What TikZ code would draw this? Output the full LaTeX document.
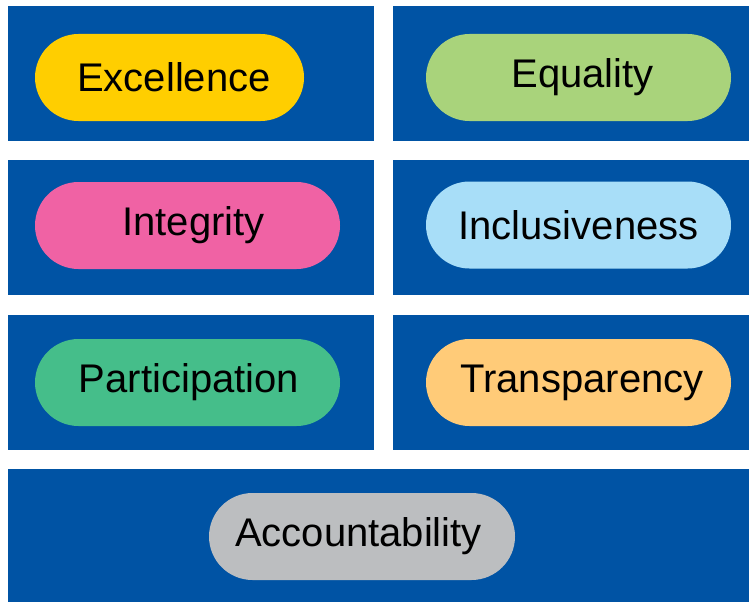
\documentclass[tikz,border=0pt]{standalone}
\usepackage{fontspec}
\setmainfont{Liberation Sans}
\usepackage{tikz}
\usetikzlibrary{shapes.misc}
\definecolor{panelblue}{RGB}{0,83,164}
\definecolor{pillyellow}{RGB}{255,206,0}
\definecolor{pillgreen}{RGB}{169,211,123}
\definecolor{pillpink}{RGB}{240,98,164}
\definecolor{pillsky}{RGB}{168,222,248}
\definecolor{pillteal}{RGB}{69,190,138}
\definecolor{pillorange}{RGB}{255,203,120}
\definecolor{pillgrey}{RGB}{188,190,192}
\tikzset{
 panel/.style={fill=panelblue},
 pill/.style={rounded rectangle, minimum height=87pt, inner sep=0pt,
   font=\fontsize{40}{41}\selectfont, text=black},
}

\begin{document}
\begin{tikzpicture} [x=1pt,y=-1pt]
\useasboundingbox (0,0) rectangle (749,602);
\foreach \y in {6,160,315} {
 \fill[panel] (8,\y) rectangle ++(366,135);
 \fill[panel] (393,\y) rectangle ++(356,135);
}
\fill[panel] (8,469) rectangle (749,602);
\node[pill, fill=pillyellow, minimum width=269pt] (exc) at (169.5,77.5) {\hspace*{9pt}Excellence};
\node[pill, fill=pillgreen, minimum width=305pt] (equ) at (578.5,77.5) {\hspace*{8pt}Equality};
\node[pill, fill=pillpink, minimum width=305pt] (itg) at (187.5,225.5) {\hspace*{12pt}Integrity};
\node[pill, fill=pillsky, minimum width=305pt] (inc) at (578.5,225) {Inclusiveness};
\node[pill, fill=pillteal, minimum width=305pt] (par) at (187.5,382.5) {\hspace*{3pt}Participation};
\node[pill, fill=pillorange, minimum width=305pt] (tra) at (578.5,382.5) {\hspace*{7pt}Transparency};
\node[pill, fill=pillgrey, minimum width=306pt] (acc) at (362,536.5) {Accountability\hspace*{7pt}};
\end{tikzpicture}
\end{document}
